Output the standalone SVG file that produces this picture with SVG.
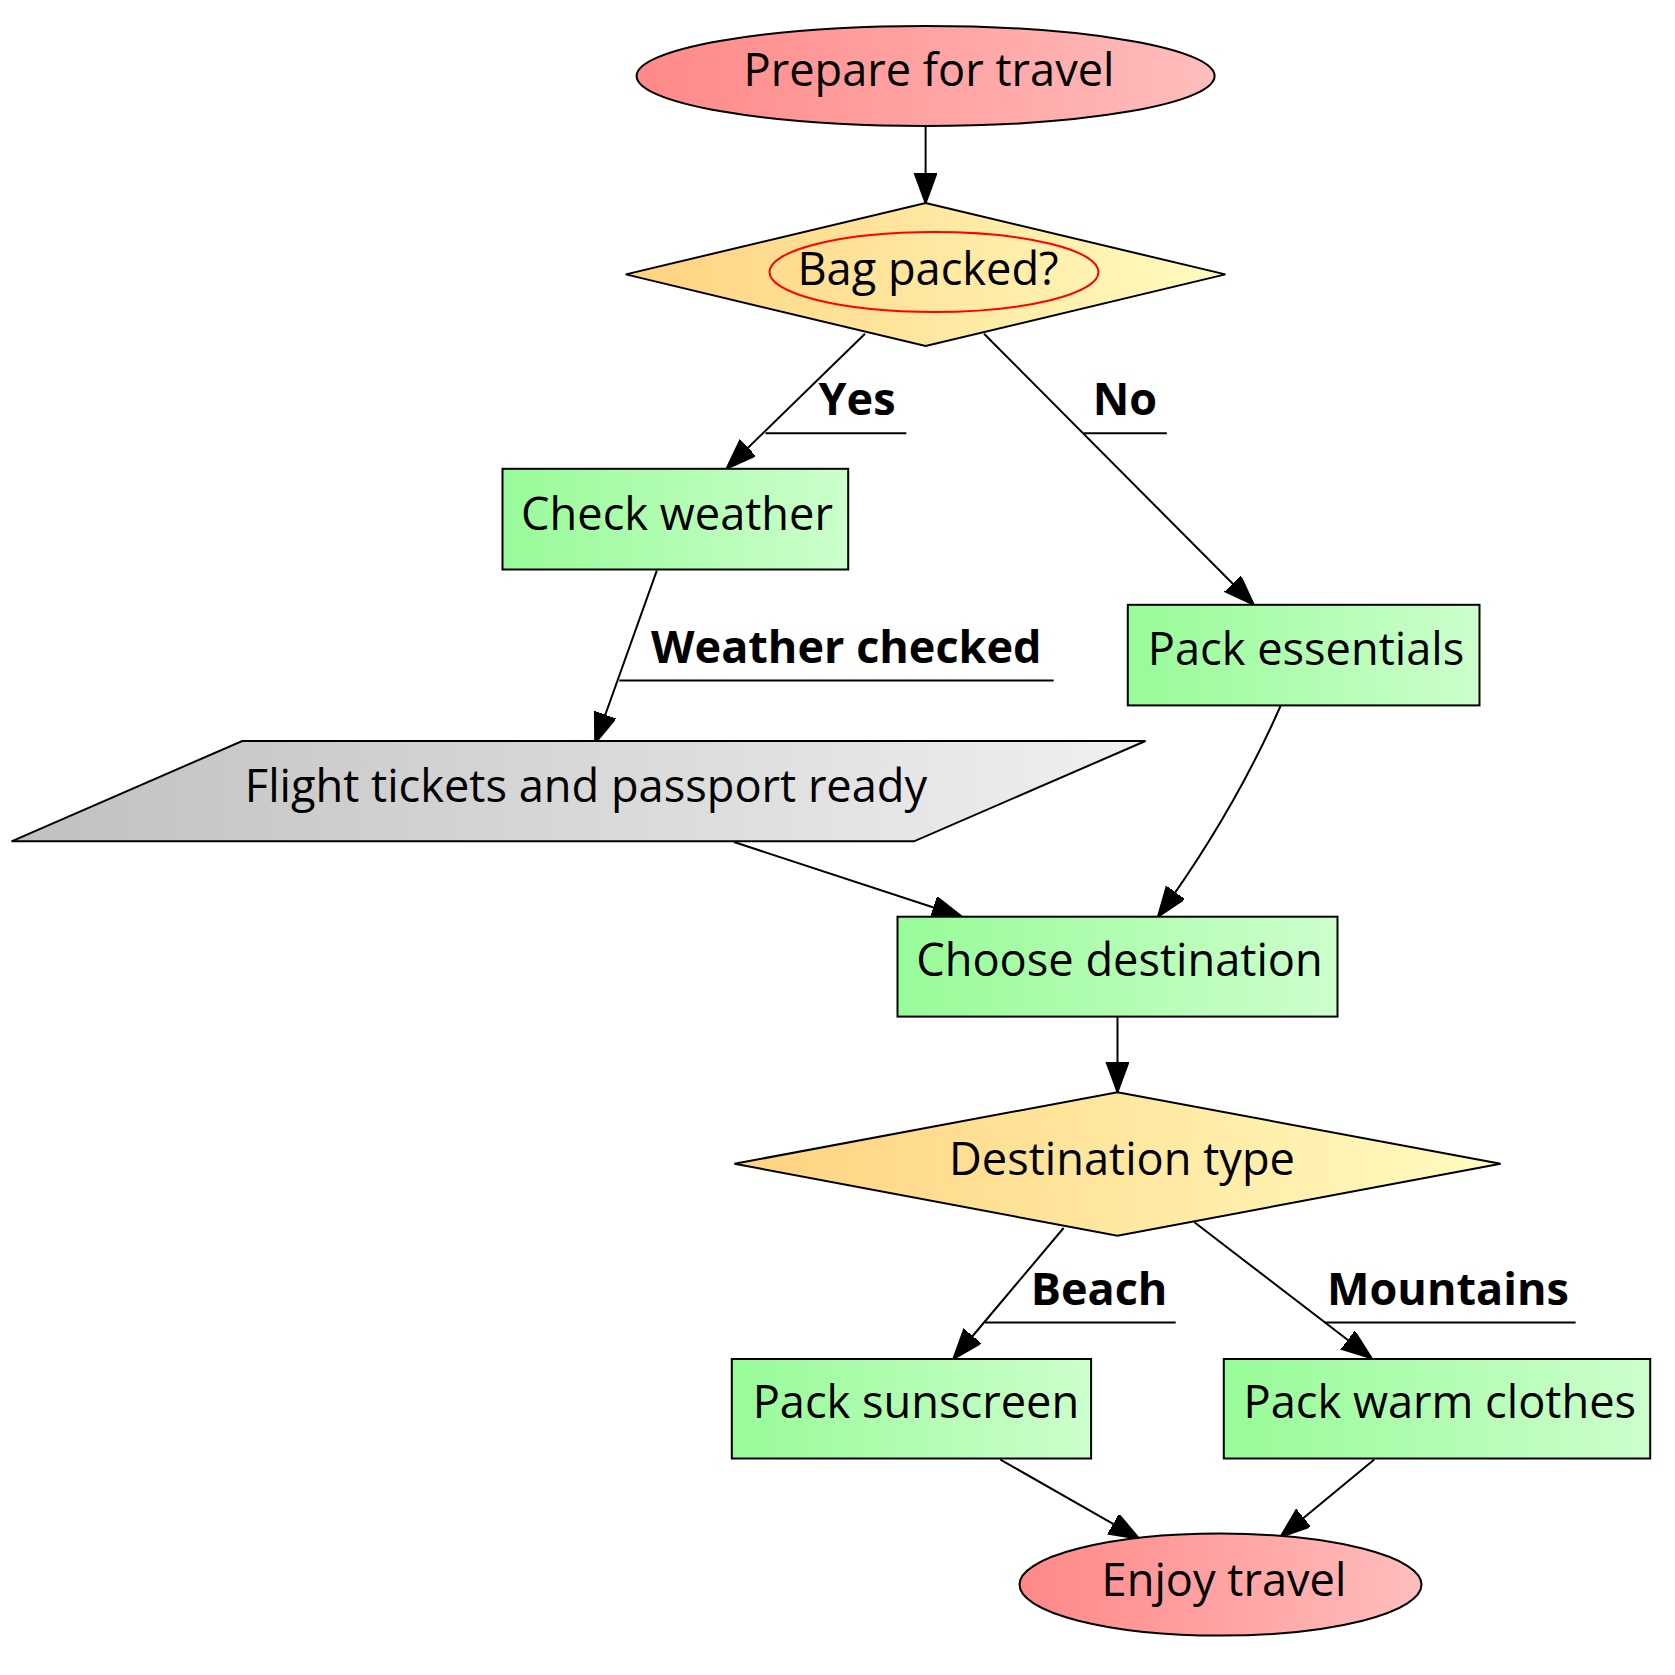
<svg xmlns="http://www.w3.org/2000/svg" width="1675" height="1675" viewBox="0 0 1675 1675">
<defs>
<linearGradient id="gRed" x1="0" y1="0" x2="1" y2="0"><stop offset="0" stop-color="#ff8888"/><stop offset="1" stop-color="#ffbdbd"/></linearGradient>
<linearGradient id="gYel" x1="0" y1="0" x2="1" y2="0"><stop offset="0" stop-color="#ffd280"/><stop offset="1" stop-color="#fffcc0"/></linearGradient>
<linearGradient id="gGrn" x1="0" y1="0" x2="1" y2="0"><stop offset="0" stop-color="#98fb98"/><stop offset="1" stop-color="#ccffcc"/></linearGradient>
<linearGradient id="gGry" x1="0" y1="0" x2="1" y2="0"><stop offset="0" stop-color="#c0c0c0"/><stop offset="1" stop-color="#f0f0f0"/></linearGradient>
<marker id="arr" markerUnits="userSpaceOnUse" markerWidth="32" markerHeight="24" refX="30" refY="11" orient="auto" viewBox="0 0 32 24">
<path d="M0,0 L30,11 L0,22 Z" fill="#000" stroke="#000" stroke-width="2"/>
</marker>
</defs>
<style>
.nd{stroke:#000;stroke-width:2}
.t{font-family:"Open Sans","Noto Sans",sans-serif;font-size:45.2px;fill:#000;text-anchor:middle}
.lb{font-family:"Open Sans","Noto Sans",sans-serif;font-size:45px;font-weight:bold;fill:#000;text-anchor:middle}
.e{fill:none;stroke:#000;stroke-width:2;marker-end:url(#arr)}
.ul{fill:none;stroke:#000;stroke-width:2}
</style>
<rect width="1675" height="1675" fill="#fff"/>
<g id="edges">
<path class="e" d="M925.6,126 L925.6,203"/>
<path class="e" d="M865,333.7 L726.5,468.8"/>
<path class="e" d="M984,333.7 L1253.7,604.8"/>
<path class="e" d="M656.8,570.7 L595.2,743"/>
<path class="e" d="M734,842 L961.8,916.7"/>
<path class="e" d="M1280.5,706 C1262,748 1227,822 1158,916.7"/>
<path class="e" d="M1117.5,1017 L1117.5,1092"/>
<path class="e" d="M1063.6,1228 L953.3,1359"/>
<path class="e" d="M1194.4,1222.3 L1371.6,1358.2"/>
<path class="e" d="M1000.4,1459.6 L1139.3,1538.8"/>
<path class="e" d="M1374.3,1459.6 L1280.5,1537"/>
<text class="lb" x="857" y="415">Yes</text>
<path class="ul" d="M765.5,433.2 H906.3"/>
<text class="lb" x="1125" y="415">No</text>
<path class="ul" d="M1083.5,433.2 H1166.8"/>
<text class="lb" x="846.3" y="662.6">Weather checked</text>
<path class="ul" d="M619.3,680.5 H1053.7"/>
<text class="lb" x="1099" y="1304.6">Beach</text>
<path class="ul" d="M985,1322.6 H1175.7"/>
<text class="lb" x="1448" y="1304.6">Mountains</text>
<path class="ul" d="M1324.5,1322.6 H1575.6"/>
</g>
<g id="prepare">
<ellipse class="nd" cx="925.6" cy="76" rx="289" ry="50" fill="url(#gRed)"/>
<text class="t" x="929" y="86">Prepare for travel</text>
</g>
<g id="bag">
<polygon class="nd" points="925.6,203 1225.4,274.4 925.6,346 625.8,274.4" fill="url(#gYel)"/>
<ellipse cx="934" cy="272" rx="164.5" ry="40" fill="none" stroke="#ff0000" stroke-width="2"/>
<text class="t" x="928" y="285">Bag packed?</text>
</g>
<g id="weather">
<rect class="nd" x="502.5" y="468.8" width="345.7" height="100.7" fill="url(#gGrn)"/>
<text class="t" x="677" y="530">Check weather</text>
</g>
<g id="essentials">
<rect class="nd" x="1127.8" y="604.8" width="351.7" height="100.6" fill="url(#gGrn)"/>
<text class="t" x="1306" y="665.2">Pack essentials</text>
</g>
<g id="flight">
<polygon class="nd" points="242.2,741 1145.5,741 914,841.3 11.5,841.3" fill="url(#gGry)"/>
<text class="t" x="586" y="802">Flight tickets and passport ready</text>
</g>
<g id="choose">
<rect class="nd" x="897.5" y="916.7" width="440" height="99.9" fill="url(#gGrn)"/>
<text class="t" x="1119.5" y="976.4">Choose destination</text>
</g>
<g id="desttype">
<polygon class="nd" points="1117.5,1092.2 1500.6,1163.8 1117.5,1235.7 734.4,1163.8" fill="url(#gYel)"/>
<text class="t" x="1122" y="1175.3">Destination type</text>
</g>
<g id="sunscreen">
<rect class="nd" x="731.8" y="1359" width="359.3" height="99.5" fill="url(#gGrn)"/>
<text class="t" x="915.9" y="1417.5">Pack sunscreen</text>
</g>
<g id="warm">
<rect class="nd" x="1223.8" y="1359" width="426.4" height="99.5" fill="url(#gGrn)"/>
<text class="t" x="1439.8" y="1417.5">Pack warm clothes</text>
</g>
<g id="enjoy">
<ellipse class="nd" cx="1220.5" cy="1584.6" rx="201" ry="51" fill="url(#gRed)"/>
<text class="t" x="1224" y="1595.5">Enjoy travel</text>
</g>
</svg>
